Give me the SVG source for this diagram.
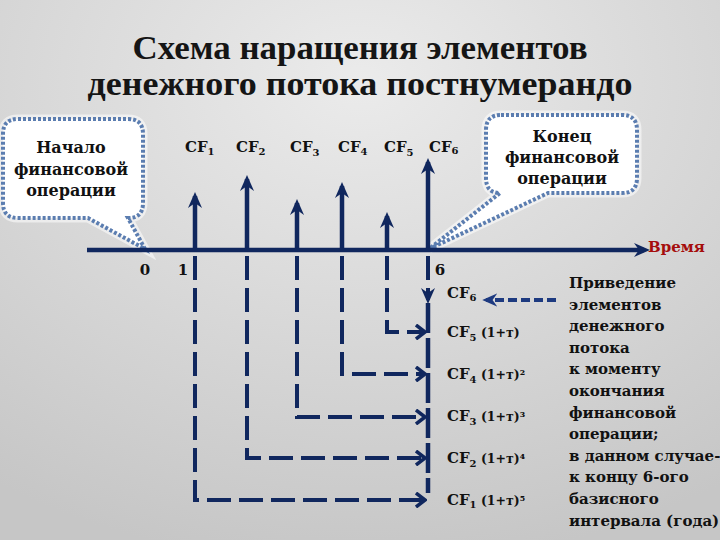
<svg xmlns="http://www.w3.org/2000/svg" width="720" height="540" viewBox="0 0 720 540">
  <defs>
    <radialGradient id="bg" cx="0.5" cy="0.15" r="0.9">
      <stop offset="0" stop-color="#ebebeb"/>
      <stop offset="1" stop-color="#c6c6c6"/>
    </radialGradient>
    <marker id="up" viewBox="0 0 16 16" refX="12" refY="8" markerWidth="16" markerHeight="16" markerUnits="userSpaceOnUse" orient="auto">
      <path d="M0,1 L16,8 L0,15 L5,8 Z" fill="#10275e"/>
    </marker>
    <marker id="open" viewBox="0 0 12 16" refX="10" refY="8" markerWidth="12" markerHeight="16" markerUnits="userSpaceOnUse" orient="auto">
      <path d="M1,1 L10,8 L1,15" fill="none" stroke="#10275e" stroke-width="3.5"/>
    </marker>
    <marker id="left" viewBox="0 0 16 16" refX="12" refY="8" markerWidth="15" markerHeight="15" markerUnits="userSpaceOnUse" orient="auto">
      <path d="M0,1 L16,8 L0,15 L5,8 Z" fill="#1d3a80"/>
    </marker>
    <marker id="axis" viewBox="0 0 16 16" refX="10" refY="8" markerWidth="16" markerHeight="16" markerUnits="userSpaceOnUse" orient="auto">
      <path d="M0,1 L16,8 L0,15 L5,8 Z" fill="#10275e"/>
    </marker>
  </defs>
  <style>
    .t { font-family: "DejaVu Serif", "Liberation Serif", serif; font-weight: bold; fill: #111; }
    .title { font-family: "Liberation Serif", "DejaVu Serif", serif; font-size: 33px; text-anchor: middle; fill: #151515; }
    .call { font-size: 16px; text-anchor: middle; }
    .cf { font-size: 15px; }
    .sub { font-size: 10px; }
    .par { font-size: 12.5px; }
    .side { font-size: 15px; }
    .num { font-size: 15px; }
    .bubble { fill: #ffffff; stroke: #5b7db0; stroke-width: 4; stroke-dasharray: 3 2; }
    .halo { fill: none; stroke: #ffffff; stroke-width: 9; stroke-opacity: 0.55; }
    .solid { stroke: #10275e; stroke-width: 4.5; fill: none; }
    .dash { stroke: #10275e; stroke-width: 4; fill: none; stroke-dasharray: 24 8; }
  </style>
  <rect width="720" height="540" fill="url(#bg)"/>

  <g id="title">
    <text class="t title" x="360" y="59" textLength="455" lengthAdjust="spacingAndGlyphs">Схема наращения элементов</text>
    <text class="t title" x="360" y="95" textLength="545" lengthAdjust="spacingAndGlyphs">денежного потока постнумерандо</text>
  </g>

  <g id="callout-start">
    <path class="halo" d="M18,119 H128 Q143,119 143,134 V203 Q143,218 128,218 L145,249 L88,218 H18 Q3,218 3,203 V134 Q3,119 18,119 Z"/>
    <path class="bubble" d="M18,119 H128 Q143,119 143,134 V203 Q143,218 128,218 L145,249 L88,218 H18 Q3,218 3,203 V134 Q3,119 18,119 Z"/>
    <text class="t call" x="71" y="153">Начало</text>
    <text class="t call" x="71" y="175">финансовой</text>
    <text class="t call" x="71" y="196">операции</text>
  </g>

  <g id="callout-end">
    <path class="halo" d="M501,115 H622 Q637,115 637,130 V178 Q637,193 622,193 H548 L429,249 L500,193 Q486,193 486,178 V130 Q486,115 501,115 Z"/>
    <path class="bubble" d="M501,115 H622 Q637,115 637,130 V178 Q637,193 622,193 H548 L429,249 L500,193 Q486,193 486,178 V130 Q486,115 501,115 Z"/>
    <text class="t call" x="562" y="142">Конец</text>
    <text class="t call" x="562" y="163">финансовой</text>
    <text class="t call" x="562" y="184">операции</text>
  </g>

  <g id="connectors">
    <line x1="87" y1="250" x2="644" y2="250" class="solid" stroke-width="5" marker-end="url(#axis)"/>
    <line x1="195" y1="250" x2="195" y2="196" class="solid" marker-end="url(#up)"/>
    <line x1="247" y1="250" x2="247" y2="179" class="solid" marker-end="url(#up)"/>
    <line x1="297" y1="250" x2="297" y2="203" class="solid" marker-end="url(#up)"/>
    <line x1="342" y1="250" x2="342" y2="186" class="solid" marker-end="url(#up)"/>
    <line x1="387" y1="250" x2="387" y2="216" class="solid" marker-end="url(#up)"/>
    <line x1="428" y1="250" x2="428" y2="162" class="solid" marker-end="url(#up)"/>
    <path class="dash" d="M195,256 V500 H425" marker-end="url(#open)"/>
    <path class="dash" d="M247,256 V458 H425" marker-end="url(#open)"/>
    <path class="dash" d="M297,256 V417 H425" marker-end="url(#open)"/>
    <path class="dash" d="M342,256 V374 H425" marker-end="url(#open)"/>
    <path class="dash" d="M387,256 V332 H425" marker-end="url(#open)"/>
    <line x1="428" y1="256" x2="428" y2="300" class="dash" marker-end="url(#up)"/>
    <line x1="428" y1="303" x2="428" y2="493" class="solid" stroke-width="4" stroke-dasharray="30 5"/>
    <line x1="556" y1="300" x2="486" y2="300" stroke="#1d3a80" stroke-width="4" stroke-dasharray="9 4" marker-end="url(#left)"/>
  </g>

  <g id="axis-labels">
    <text class="t num" x="145" y="275" text-anchor="middle">0</text>
    <text class="t num" x="183" y="275" text-anchor="middle">1</text>
    <text class="t num" x="440" y="275" text-anchor="middle">6</text>
    <text class="t" x="648" y="252" font-size="15" style="fill:#a50d0d">Время</text>
  </g>

  <g id="cf-top">
    <text class="t cf" x="185" y="152">CF<tspan class="sub" dy="3">1</tspan></text>
    <text class="t cf" x="236" y="152">CF<tspan class="sub" dy="3">2</tspan></text>
    <text class="t cf" x="290" y="152">CF<tspan class="sub" dy="4">3</tspan></text>
    <text class="t cf" x="338" y="152">CF<tspan class="sub" dy="3">4</tspan></text>
    <text class="t cf" x="384" y="152">CF<tspan class="sub" dy="4">5</tspan></text>
    <text class="t cf" x="429" y="152">CF<tspan class="sub" dy="2">6</tspan></text>
  </g>

  <g id="cf-future">
    <text class="t cf" x="447" y="298">CF<tspan class="sub" dy="3">6</tspan></text>
    <text class="t cf" x="447" y="337">CF<tspan class="sub" dy="4">5</tspan><tspan class="par" dy="-4"> (1+т)</tspan></text>
    <text class="t cf" x="447" y="379">CF<tspan class="sub" dy="4">4</tspan><tspan class="par" dy="-4"> (1+т)²</tspan></text>
    <text class="t cf" x="447" y="421">CF<tspan class="sub" dy="4">3</tspan><tspan class="par" dy="-4"> (1+т)³</tspan></text>
    <text class="t cf" x="447" y="463">CF<tspan class="sub" dy="4">2</tspan><tspan class="par" dy="-4"> (1+т)⁴</tspan></text>
    <text class="t cf" x="447" y="505">CF<tspan class="sub" dy="3">1</tspan><tspan class="par" dy="-3"> (1+т)⁵</tspan></text>
  </g>

  <g id="side-note">
    <text class="t side" x="569" y="288">Приведение</text>
    <text class="t side" x="569" y="309.6">элементов</text>
    <text class="t side" x="569" y="331.2">денежного</text>
    <text class="t side" x="569" y="352.8">потока</text>
    <text class="t side" x="569" y="374.4">к моменту</text>
    <text class="t side" x="569" y="396">окончания</text>
    <text class="t side" x="569" y="417.6">финансовой</text>
    <text class="t side" x="569" y="439.2">операции;</text>
    <text class="t side" x="569" y="460.8">в данном случае-</text>
    <text class="t side" x="569" y="482.4">к концу 6-ого</text>
    <text class="t side" x="569" y="504">базисного</text>
    <text class="t side" x="569" y="525.6">интервала (года)</text>
  </g>
</svg>
